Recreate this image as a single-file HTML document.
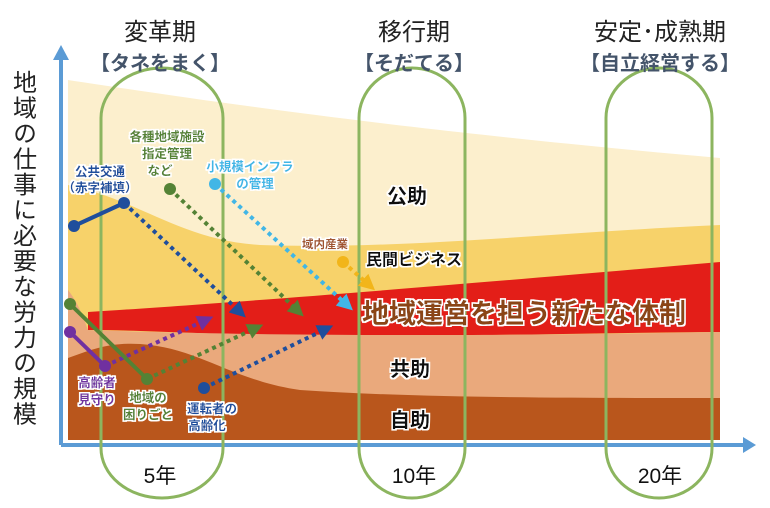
<!DOCTYPE html>
<html><head><meta charset="utf-8"><style>
html,body{margin:0;padding:0;background:#fff;overflow:hidden;}
svg{display:block;font-family:"Liberation Sans","Noto Sans CJK JP",sans-serif;}
.b{font-weight:bold;}
</style></head><body>
<svg width="770" height="508" viewBox="0 0 770 508" xmlns="http://www.w3.org/2000/svg">
<defs>
<marker id="aB" markerWidth="4" markerHeight="4" refX="2" refY="2" orient="auto" markerUnits="strokeWidth"><path d="M0,0 L4,2 L0,4z" fill="#1f4e9c"/></marker>
<marker id="aG" markerWidth="4" markerHeight="4" refX="2" refY="2" orient="auto" markerUnits="strokeWidth"><path d="M0,0 L4,2 L0,4z" fill="#548235"/></marker>
<marker id="aC" markerWidth="4" markerHeight="4" refX="2" refY="2" orient="auto" markerUnits="strokeWidth"><path d="M0,0 L4,2 L0,4z" fill="#41b6e6"/></marker>
<marker id="aP" markerWidth="4" markerHeight="4" refX="2" refY="2" orient="auto" markerUnits="strokeWidth"><path d="M0,0 L4,2 L0,4z" fill="#7030a0"/></marker>
<marker id="aY" markerWidth="4" markerHeight="4" refX="2" refY="2" orient="auto" markerUnits="strokeWidth"><path d="M0,0 L4,2 L0,4z" fill="#f2b51a"/></marker>
<filter id="glow"><feMorphology operator="dilate" radius="1.5" in="SourceAlpha" result="d"/><feFlood flood-color="#fff"/><feComposite in2="d" operator="in"/><feMerge><feMergeNode/><feMergeNode in="SourceGraphic"/></feMerge></filter>
</defs>
<path d="M68,80 C200,100 400,130 720,158 L720,440 L68,440Z" fill="#fcefcd"/>
<path d="M68,185 C140,200 180,240 260,245 C400,250 560,232 720,225 L720,440 L68,440Z" fill="#f7d26a"/>
<path d="M88,312 C200,305 400,290 720,262 L720,332 C560,333 400,338 300,336 C200,334 140,330 88,330Z" fill="#e31e18"/>
<path d="M68,290 C80,305 86,325 88,330 C200,334 400,338 720,332 L720,440 L68,440Z" fill="#eaa97c"/>
<path d="M68,358 C90,350 110,342 140,344 C200,348 230,380 300,390 C420,398 560,398 720,398 L720,440 L68,440Z" fill="#b9561c"/>
<line x1="61" y1="445" x2="745" y2="445" stroke="#5b9bd5" stroke-width="4"/>
<line x1="61" y1="445" x2="61" y2="58" stroke="#5b9bd5" stroke-width="4"/>
<path d="M53,60 L61,45 L69,60Z" fill="#5b9bd5"/>
<path d="M743,437 L756,445 L743,453Z" fill="#5b9bd5"/>
<g fill="none" stroke="#8cb55f" stroke-width="3">
<path d="M101,118 A61,50 0 0 1 223,118 L223,448 A61,50 0 0 1 101,448 Z"/>
<path d="M359,118 A53,50 0 0 1 465,118 L465,448 A53,50 0 0 1 359,448 Z"/>
<path d="M606,118 A53,50 0 0 1 712,118 L712,448 A53,50 0 0 1 606,448 Z"/>
</g>
<g font-size="24" fill="#222" text-anchor="middle">
<text x="160" y="40">変革期</text><text x="414" y="40">移行期</text><text x="660" y="40">安定･成熟期</text>
</g>
<g font-size="20" fill="#44546a" text-anchor="middle" class="b">
<text x="160" y="70">【タネをまく】</text><text x="414" y="70">【そだてる】</text><text x="660" y="70">【自立経営する】</text>
</g>
<text x="22" y="70" font-size="24" fill="#222" style="writing-mode:tb;" letter-spacing="1.5">地域の仕事に必要な労力の規模</text>
<g stroke-width="4" stroke-dasharray="4 4" fill="none">
<line x1="124" y1="203" x2="240" y2="312" stroke="#1f4e9c" marker-end="url(#aB)"/>
<line x1="170" y1="189" x2="298" y2="311" stroke="#548235" marker-end="url(#aG)"/>
<line x1="215" y1="184" x2="347" y2="305" stroke="#41b6e6" marker-end="url(#aC)"/>
<line x1="147" y1="379" x2="256" y2="328" stroke="#548235" marker-end="url(#aG)"/>
<line x1="105" y1="366" x2="206" y2="320" stroke="#7030a0" marker-end="url(#aP)"/>
<line x1="204" y1="388" x2="326" y2="329" stroke="#1f4e9c" marker-end="url(#aB)"/>
<line x1="343" y1="262" x2="369" y2="285" stroke="#f2b51a" marker-end="url(#aY)"/>
</g>
<line x1="74" y1="226" x2="124" y2="203" stroke="#1f4e9c" stroke-width="4"/>
<line x1="70" y1="304" x2="147" y2="379" stroke="#548235" stroke-width="4"/>
<line x1="70" y1="332" x2="105" y2="366" stroke="#7030a0" stroke-width="4"/>
<circle cx="74" cy="226" r="6" fill="#1f4e9c"/><circle cx="124" cy="203" r="6" fill="#1f4e9c"/>
<circle cx="170" cy="189" r="6" fill="#548235"/><circle cx="215" cy="184" r="6" fill="#41b6e6"/>
<circle cx="70" cy="304" r="6" fill="#548235"/><circle cx="147" cy="379" r="6" fill="#548235"/>
<circle cx="70" cy="332" r="6" fill="#7030a0"/><circle cx="105" cy="366" r="6" fill="#7030a0"/>
<circle cx="204" cy="388" r="6" fill="#1f4e9c"/><circle cx="343" cy="262" r="6" fill="#f2b51a"/>
<g font-size="12.5" class="b" text-anchor="middle" filter="url(#glow)">
<text x="100" y="176" fill="#1f4e9c">公共交通</text><text x="100" y="192" fill="#1f4e9c">（赤字補填）</text>
<text x="167" y="141" fill="#548235">各種地域施設</text><text x="167" y="158" fill="#548235">指定管理</text><text x="160" y="175" fill="#548235">など</text>
<text x="250" y="171" fill="#41b6e6">小規模インフラ</text><text x="255" y="188" fill="#41b6e6">の管理</text>
<text x="325" y="248" fill="#a0522d" font-size="11.5">域内産業</text>
<text x="97" y="387" fill="#7030a0">高齢者</text><text x="97" y="404" fill="#7030a0">見守り</text>
<text x="148" y="402" fill="#548235">地域の</text><text x="148" y="419" fill="#548235">困りごと</text>
<text x="212" y="413" fill="#1f4e9c">運転者の</text><text x="207" y="430" fill="#1f4e9c">高齢化</text>
</g>
<g class="b" text-anchor="middle" fill="#111" filter="url(#glow)">
<text x="407" y="203" font-size="20">公助</text>
<text x="414" y="265" font-size="16">民間ビジネス</text>
<text x="410" y="376" font-size="20">共助</text>
<text x="410" y="427" font-size="20">自助</text>
<text x="524" y="323" font-size="27" fill="#8b4513">地域運営を担う新たな体制</text>
</g>
<g font-size="21" fill="#111" text-anchor="middle">
<text x="160" y="483">5年</text><text x="414" y="483">10年</text><text x="660" y="483">20年</text>
</g>
</svg>
</body></html>
